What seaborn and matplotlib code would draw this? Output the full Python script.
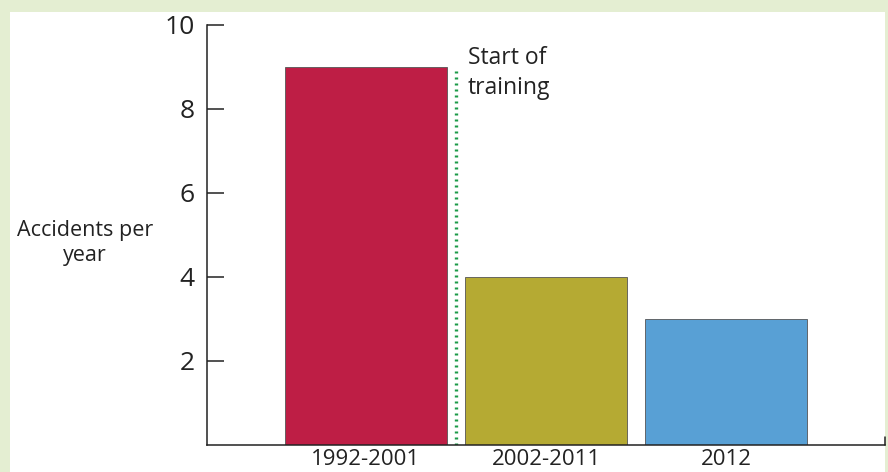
import numpy as np
import pandas as pd
import matplotlib.pyplot as plt
from matplotlib.patches import Rectangle
import seaborn as sns

# data
periods = ['1992-2001', '2002-2011', '2012']
accidents = [9, 4, 3]
bar_colors = ['#be1e45', '#b5aa33', '#58a0d5']
yticks = [2, 4, 6, 8, 10]

df = pd.DataFrame({'Period': periods, 'Accidents': accidents})

sns.set_style('white')
plt.rcParams['font.family'] = ['Open Sans', 'DejaVu Sans']

fig = plt.figure(figsize=(8.88, 4.72), dpi=100, facecolor='#e4eed2')
# white panel behind the chart
fig.patches.append(Rectangle((10 / 888, 0), 875 / 888, 460 / 472,
                             transform=fig.transFigure, facecolor='white',
                             edgecolor='none', zorder=-5))

ax = fig.add_axes([207 / 888, 27 / 472, 678 / 888, 420 / 472])
ax.set_facecolor('none')
ax.set_zorder(2)

sns.barplot(data=df, x='Period', y='Accidents', hue='Period', palette=bar_colors,
            width=0.9, legend=False, ax=ax, edgecolor='#555555', linewidth=0.6,
            saturation=1)

ax.set_xlim(-0.883, 2.883)
ax.set_ylim(0, 10)
ax.set_yticks(yticks)
ax.tick_params(axis='y', left=True, direction='in', length=12.5, width=1.1,
               labelsize=19, colors='#222222', pad=9)
ax.tick_params(axis='x', bottom=False, length=0, pad=3, labelsize=16,
               labelcolor='#222222')

for side in ['top', 'right']:
    ax.spines[side].set_visible(False)
for side in ['left', 'bottom']:
    ax.spines[side].set_linewidth(1.1)
    ax.spines[side].set_color('#222222')
# small end tick on the x axis
ax.plot([1, 1], [0, 0.02], transform=ax.transAxes, color='#222222', lw=1.1,
        clip_on=False)

ax.set_xlabel('')
ax.set_ylabel('Accidents per\nyear', rotation=0, fontsize=15.5, color='#222222',
              ha='center', va='center', linespacing=1.25)
ax.yaxis.set_label_coords(-0.180, 0.481)

# start of training marker
ax.plot([0.5, 0.5], [0, accidents[0]], color='#1c9a48', lw=2.4,
        linestyle=(0, (0.6, 1.2)))
ax.text(0.565, 8.85, 'Start of\ntraining', fontsize=16.5, color='#222222',
        ha='left', va='center', linespacing=1.35)

fig.savefig('out.png', dpi=100, facecolor=fig.get_facecolor())
